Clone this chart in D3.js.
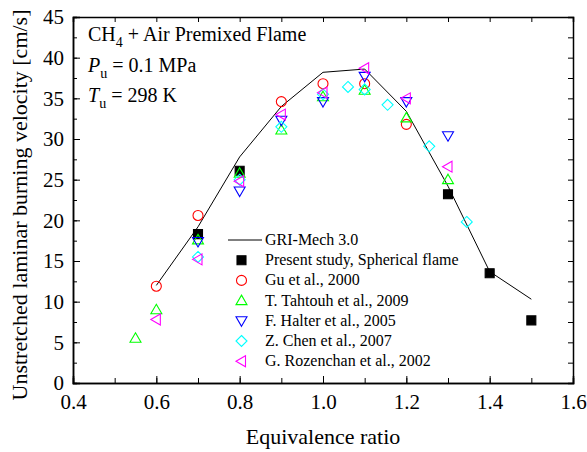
<!DOCTYPE html>
<html>
<head>
<meta charset="utf-8">
<script src="https://cdn.jsdelivr.net/npm/d3@7"></script>
<style>
  body { margin: 0; background: #fff; }
  svg { display: block; font-family: "Liberation Serif", "Times New Roman", serif; }
</style>
</head>
<body>
<svg id="chart" width="587" height="452"></svg>
<script>
// GRI-Mech 3.0 computed curve
const griPhi = [0.6, 0.7, 0.8, 0.9, 1.0, 1.1, 1.2, 1.3, 1.4, 1.5];
const griSL  = [12.0, 19.2, 27.8, 34.0, 38.2, 38.6, 33.4, 24.2, 13.7, 10.3];

// measured data sets
const presentPhi = [0.7, 0.8, 1.3, 1.4, 1.5];
const presentSL  = [18.3, 26.1, 23.2, 13.5, 7.7];

const guPhi = [0.6, 0.7, 0.9, 1.0, 1.1, 1.2];
const guSL  = [11.9, 20.6, 34.6, 36.8, 36.8, 31.8];

const tahtouhPhi = [0.55, 0.6, 0.7, 0.8, 0.9, 1.0, 1.1, 1.2, 1.3];
const tahtouhSL  = [5.5, 9.0, 17.6, 25.8, 31.1, 35.2, 36.0, 32.6, 25.0];

const halterPhi = [0.7, 0.8, 0.9, 1.0, 1.1, 1.2, 1.3];
const halterSL  = [17.4, 23.6, 32.3, 34.6, 37.7, 34.6, 30.4];

const chenPhi = [0.7, 0.8, 0.9, 1.0, 1.06, 1.1, 1.155, 1.255, 1.345];
const chenSL  = [15.5, 25.0, 31.5, 35.5, 36.4, 36.1, 34.2, 29.1, 19.8];

const rozenPhi = [0.6, 0.7, 0.8, 0.9, 1.0, 1.1, 1.2, 1.3];
const rozenSL  = [7.8, 15.2, 24.8, 33.0, 35.7, 38.7, 35.0, 26.6];

const xTicks = [0.4, 0.6, 0.8, 1.0, 1.2, 1.4, 1.6];
const yTicks = [0, 5, 10, 15, 20, 25, 30, 35, 40, 45];

const svg = d3.select("#chart");
const mLeft = 73, mRight = 573, mTop = 17, mBottom = 383;

const x = d3.scaleLinear().domain([0.4, 1.6]).range([mLeft, mRight]);
const y = d3.scaleLinear().domain([0, 45]).range([mBottom, mTop]);

// axes, ticks point inward
const xMinor = d3.range(0.4, 1.6001, 0.1);
const yMinor = d3.range(0, 45.001, 2.5);

svg.append("g").attr("transform", `translate(0,${mBottom})`)
    .call(d3.axisBottom(x).tickValues(xMinor).tickSize(-5).tickFormat(""));
svg.append("g").attr("transform", `translate(0,${mBottom})`)
    .call(d3.axisBottom(x).tickValues(xTicks).tickSize(-7).tickPadding(11).tickFormat(d3.format(".1f")))
    .call(g => g.selectAll("text").attr("font-size", 21).attr("font-family", "Liberation Serif").attr("fill", "#000"));
svg.append("g").attr("transform", `translate(0,${mTop})`)
    .call(d3.axisTop(x).tickValues(xMinor).tickSize(-5).tickFormat(""));

svg.append("g").attr("transform", `translate(${mLeft},0)`)
    .call(d3.axisLeft(y).tickValues(yMinor).tickSize(-4).tickFormat(""));
svg.append("g").attr("transform", `translate(${mLeft},0)`)
    .call(d3.axisLeft(y).tickValues(yTicks).tickSize(-7).tickPadding(9))
    .call(g => g.selectAll("text").attr("font-size", 21).attr("font-family", "Liberation Serif").attr("fill", "#000"));
svg.append("g").attr("transform", `translate(${mRight},0)`)
    .call(d3.axisRight(y).tickValues(yMinor).tickSize(-5).tickFormat(""));

svg.selectAll(".domain").attr("stroke", "#000").attr("stroke-width", 1.5);
svg.selectAll(".tick line").attr("stroke", "#000");

// axis titles
svg.append("text")
    .attr("x", (mLeft + mRight) / 2).attr("y", 444)
    .attr("text-anchor", "middle").attr("font-size", 22)
    .text("Equivalence ratio");
svg.append("text")
    .attr("transform", `translate(27,${(mTop + mBottom) / 2 + 5}) rotate(-90)`)
    .attr("text-anchor", "middle").attr("font-size", 22)
    .text("Unstretched laminar burning velocity [cm/s]");

// annotations
const note = svg.append("g").attr("font-size", 20);
const t1 = note.append("text").attr("x", 88).attr("y", 41);
t1.append("tspan").text("CH");
t1.append("tspan").attr("font-size", 14).attr("dy", 6).text("4");
t1.append("tspan").attr("dy", -6).text(" + Air Premixed Flame");
const t2 = note.append("text").attr("x", 88).attr("y", 72);
t2.append("tspan").attr("font-style", "italic").text("P");
t2.append("tspan").attr("font-size", 14).attr("dy", 6).text("u");
t2.append("tspan").attr("dy", -6).text(" = 0.1 MPa");
const t3 = note.append("text").attr("x", 88).attr("y", 102);
t3.append("tspan").attr("font-style", "italic").text("T");
t3.append("tspan").attr("font-size", 14).attr("dy", 6).text("u");
t3.append("tspan").attr("dy", -6).text(" = 298 K");

// GRI-Mech line
const line = d3.line().x((d, i) => x(griPhi[i])).y(d => y(d));
svg.append("path").datum(griSL)
    .attr("d", line).attr("fill", "none")
    .attr("stroke", "#000").attr("stroke-width", 1);

// marker shapes
function markerPath(type) {
    const s = 5.5;
    switch (type) {
        case "square": return `M${-4.5},${-4.5}H4.5V4.5H-4.5Z`;
        case "circle": return `M5,0A5,5 0 1,1 -5,0A5,5 0 1,1 5,0Z`;
        case "up": return `M0,${-s}L${s},4L${-s},4Z`;
        case "down": return `M0,${s}L${s},-4L${-s},-4Z`;
        case "left": return `M${-s},0L4,${-s}L4,${s}Z`;
        case "diamond": return `M0,${-s}L${s},0L0,${s}L${-s},0Z`;
    }
}

const series = [
    { label: "Present study, Spherical flame", phi: presentPhi, sl: presentSL, type: "square", color: "#000", fill: true },
    { label: "Gu et al., 2000", phi: guPhi, sl: guSL, type: "circle", color: "#ff0000" },
    { label: "T. Tahtouh et al., 2009", phi: tahtouhPhi, sl: tahtouhSL, type: "up", color: "#00ff00" },
    { label: "F. Halter et al., 2005", phi: halterPhi, sl: halterSL, type: "down", color: "#0000ff" },
    { label: "Z. Chen et al., 2007", phi: chenPhi, sl: chenSL, type: "diamond", color: "#00ffff" },
    { label: "G. Rozenchan et al., 2002", phi: rozenPhi, sl: rozenSL, type: "left", color: "#ff00ff" }
];

series.forEach(s => {
    svg.append("g").selectAll("path")
        .data(s.sl)
        .enter().append("path")
        .attr("transform", (d, i) => `translate(${x(s.phi[i])},${y(d)})`)
        .attr("d", markerPath(s.type))
        .attr("fill", s.fill ? s.color : "none")
        .attr("stroke", s.color)
        .attr("stroke-width", 1.1);
});

// legend
const legend = svg.append("g").attr("font-size", 16);
const ly0 = 240, lstep = 20.2;
legend.append("line")
    .attr("x1", 228).attr("x2", 262).attr("y1", ly0).attr("y2", ly0)
    .attr("stroke", "#000").attr("stroke-width", 1);
legend.append("text").attr("x", 265).attr("y", ly0 + 5).text("GRI-Mech 3.0");
series.forEach((s, i) => {
    const ly = ly0 + lstep * (i + 1);
    legend.append("path")
        .attr("transform", `translate(241.5,${ly})`)
        .attr("d", markerPath(s.type))
        .attr("fill", s.fill ? s.color : "none")
        .attr("stroke", s.color).attr("stroke-width", 1.1);
    legend.append("text").attr("x", 265).attr("y", ly + 5).text(s.label);
});
</script>
</body>
</html>
